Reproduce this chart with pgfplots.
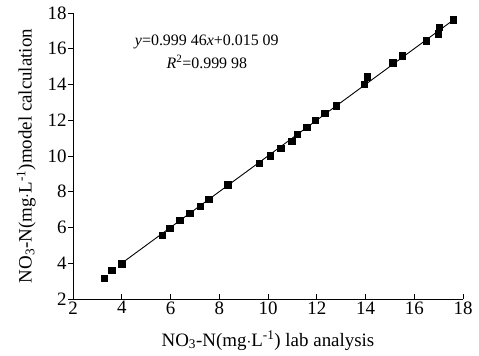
\documentclass[border=0pt]{standalone}
\usepackage{fontspec}
\setmainfont{Liberation Serif}
\usepackage{pgfplots}
\pgfplotsset{compat=1.18}
\begin{document}
\begin{tikzpicture}
\begin{axis}[
  scale only axis,
  width=390bp, height=286bp,
  xmin=2, xmax=18, ymin=2, ymax=18,
  xtick={2,4,...,18}, ytick={2,4,...,18},
  axis lines*=left,
  axis line style={line width=0.8pt},
  tick style={black, line width=0.8pt},
  major tick length=5bp,
  tick align=inside,
  y tick style={xshift=-5bp},
  ticklabel style={font=\fontsize{19}{21}\selectfont},
  xticklabel style={yshift=1bp},
  yticklabel style={xshift=-3bp},
  /pgf/number format/assume math mode=true,
  xlabel={NO\textsubscript{3}-N(mg$\cdot$L\textsuperscript{-1}) lab analysis},
  ylabel={NO\textsubscript{3}-N(mg$\cdot$L\textsuperscript{-1})model calculation},
  label style={font=\fontsize{19}{21}\selectfont},
  xlabel style={yshift=-10bp},
  ylabel style={yshift=5bp},
  clip=false,
]
\addplot[black, line width=0.9pt] coordinates {(3.99,3.9929) (17.6,17.6056)};
\addplot[only marks, mark=square*, mark size=3.2bp, black] coordinates {
(3.27,3.18) (3.58,3.60) (3.99,3.98) (5.66,5.58) (5.97,5.97) (6.38,6.40)
(6.79,6.81) (7.23,7.19) (7.56,7.60) (8.34,8.40) (9.63,9.61) (10.08,10.02)
(10.52,10.43) (10.97,10.82) (11.21,11.22) (11.59,11.61) (11.93,12.00)
(12.32,12.41) (12.79,12.82) (13.95,14.01) (14.08,14.43) (15.11,15.23)
(15.51,15.62) (16.48,16.44) (16.99,16.85) (17.03,17.22) (17.60,17.63)
};
\node[font=\fontsize{16}{18}\selectfont] at (axis cs:7.49,16.39) {\textit{y}=0.999 46\textit{x}+0.015 09};
\node[font=\fontsize{16}{18}\selectfont] at (axis cs:7.49,15.28) {\textit{R}\textsuperscript{2}=0.999 98};
\end{axis}
\path[use as bounding box] (-73bp,-57bp) rectangle (406bp,299bp);
\end{tikzpicture}
\end{document}
